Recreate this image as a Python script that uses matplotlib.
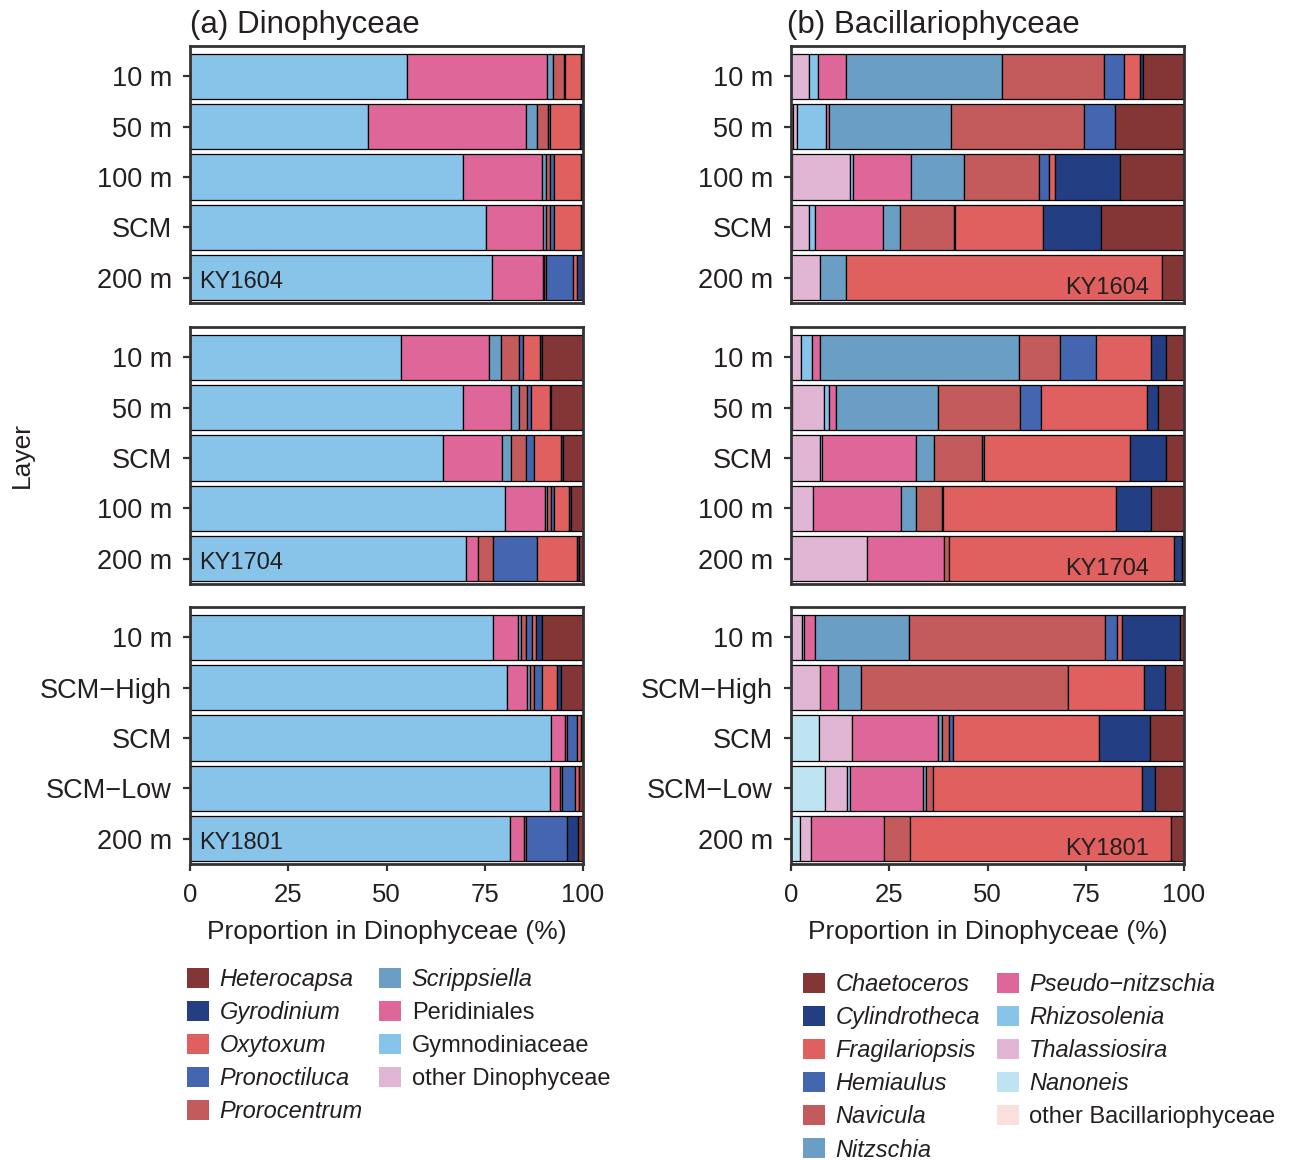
import numpy as np
import matplotlib
matplotlib.use("Agg")
import matplotlib.pyplot as plt
from matplotlib.patches import Patch

plt.rcParams['font.family'] = ['Liberation Sans', 'DejaVu Sans']

cruises = ["KY1604", "KY1704", "KY1801"]
layers = [["10 m", "50 m", "100 m", "SCM", "200 m"],
          ["10 m", "50 m", "SCM", "100 m", "200 m"],
          ["10 m", "SCM\u2212High", "SCM", "SCM\u2212Low", "200 m"]]

# Dinophyceae, % per layer: KY1604 x5, KY1704 x5, KY1801 x5 (top to bottom)
other_dino = [0.0] * 15
gymno = [55.3, 45.4, 69.4, 75.3, 76.8, 53.7, 69.5, 64.5, 80.1, 70.3, 77.0, 80.6, 91.9, 91.6, 81.4]
peri = [35.6, 40.2, 20.2, 14.5, 13.1, 22.4, 12.3, 14.8, 10.2, 2.9, 6.4, 5.2, 3.6, 2.6, 3.7]
scripp = [1.4, 2.7, 0.9, 0.9, 0.3, 3.1, 1.8, 2.5, 0.6, 0.0, 0.8, 0.8, 0.0, 0.0, 0.0]
proro = [2.8, 2.7, 1.2, 0.9, 0.3, 4.6, 2.2, 3.8, 0.9, 3.8, 1.4, 1.0, 0.4, 0.4, 0.3]
pron = [0.3, 0.6, 1.0, 0.9, 7.0, 1.0, 1.0, 2.0, 0.8, 11.4, 1.4, 1.9, 2.7, 3.4, 10.5]
oxy = [4.2, 7.7, 6.9, 7.1, 1.0, 4.2, 4.7, 6.7, 3.9, 10.1, 1.1, 3.9, 0.8, 0.9, 0.0]
gyro = [0.2, 0.4, 0.2, 0.2, 1.4, 0.6, 0.3, 0.5, 0.4, 0.4, 1.4, 1.1, 0.3, 0.2, 2.9]
hetero = [0.2, 0.3, 0.2, 0.2, 0.1, 10.4, 8.2, 5.2, 3.1, 1.1, 10.5, 5.5, 0.3, 0.9, 1.2]

# Bacillariophyceae
other_bac = [0.0, 0.5, 0.3, 0.3, 0.0, 0.0, 0.3, 0.0, 0.0, 0.0, 0.0, 0.0, 0.0, 0.0, 0.0]
nanon = [0.0, 0.0, 0.0, 0.0, 0.0, 0.0, 0.0, 0.0, 0.0, 0.0, 0.0, 0.0, 7.0, 8.6, 2.2]
thal = [4.5, 0.9, 14.8, 4.4, 7.4, 2.6, 8.1, 7.4, 5.6, 19.4, 2.8, 7.5, 8.5, 5.7, 2.9]
rhizo = [2.3, 7.4, 0.6, 1.4, 0.0, 2.7, 1.2, 0.5, 0.0, 0.0, 0.6, 0.0, 0.0, 0.6, 0.0]
pseudo = [7.2, 0.8, 14.9, 17.2, 0.0, 2.1, 1.9, 23.9, 22.4, 19.6, 2.8, 4.4, 21.8, 18.7, 18.6]
nitz = [39.6, 31.2, 13.5, 4.4, 6.5, 50.5, 25.9, 4.5, 3.8, 0.0, 23.9, 5.9, 1.1, 0.8, 0.0]
navic = [26.1, 33.8, 18.9, 13.8, 0.0, 10.5, 20.8, 12.3, 6.6, 1.1, 49.9, 52.6, 1.9, 1.7, 6.7]
hemi = [5.1, 7.8, 2.6, 0.2, 0.0, 9.1, 5.5, 0.4, 0.3, 0.0, 2.9, 0.2, 0.9, 0.0, 0.0]
frag = [3.9, 0.0, 1.5, 22.5, 80.5, 14.0, 26.8, 37.3, 44.1, 57.3, 1.2, 19.3, 37.2, 53.1, 66.2]
cyl = [0.8, 0.0, 16.6, 14.8, 0.0, 3.8, 3.0, 9.0, 8.7, 2.2, 14.8, 5.3, 12.9, 3.3, 0.0]
chaet = [10.5, 17.6, 16.3, 21.0, 5.6, 4.7, 6.5, 4.7, 8.5, 0.4, 1.1, 4.8, 8.7, 7.5, 3.4]

c_dark = "#843637"
c_navy = "#233e82"
c_red = "#e06060"
c_blue = "#4466b0"
c_rust = "#c35a5c"
c_steel = "#6a9ec4"
c_pink = "#de6699"
c_sky = "#88c3ea"
c_lilac = "#e0b6d4"
c_cyan = "#bee4f3"
c_blush = "#fbdfdd"

# stacked left to right
dino_stack = [("other Dinophyceae", other_dino, c_lilac, False),
              ("Gymnodiniaceae", gymno, c_sky, False),
              ("Peridiniales", peri, c_pink, False),
              ("Scrippsiella", scripp, c_steel, True),
              ("Prorocentrum", proro, c_rust, True),
              ("Pronoctiluca", pron, c_blue, True),
              ("Oxytoxum", oxy, c_red, True),
              ("Gyrodinium", gyro, c_navy, True),
              ("Heterocapsa", hetero, c_dark, True)]
bac_stack = [("other Bacillariophyceae", other_bac, c_blush, False),
             ("Nanoneis", nanon, c_cyan, True),
             ("Thalassiosira", thal, c_lilac, True),
             ("Rhizosolenia", rhizo, c_sky, True),
             ("Pseudo\u2212nitzschia", pseudo, c_pink, True),
             ("Nitzschia", nitz, c_steel, True),
             ("Navicula", navic, c_rust, True),
             ("Hemiaulus", hemi, c_blue, True),
             ("Fragilariopsis", frag, c_red, True),
             ("Cylindrotheca", cyl, c_navy, True),
             ("Chaetoceros", chaet, c_dark, True)]

fig = plt.figure(figsize=(12.97, 11.6), dpi=100)

W, H = 1297, 1160
col_x = [190, 791]
row_y = [(46, 303), (327, 584), (607, 864)]
spine_c = "#333333"
txt_c = "#231f20"


def draw_column(col, stack, title, kx, kha):
    for i in range(3):
        top, bot = row_y[i]
        ax = fig.add_axes([col_x[col] / W, 1 - bot / H, 393 / W, (bot - top) / H])
        y = np.arange(5)
        left = np.zeros(5)
        for name, vals, color, it in stack:
            v = np.array(vals[i * 5:(i + 1) * 5])
            m = v > 0
            ax.barh(y[m], v[m], left=left[m], height=0.9, color=color,
                    edgecolor="black", linewidth=0.9)
            left += v
        ax.set_xlim(0, 100)
        ax.set_ylim(4.5, -0.6)
        ax.set_yticks(y)
        ax.set_yticklabels(layers[i])
        ax.set_xticks([0, 25, 50, 75, 100])
        for s in ax.spines.values():
            s.set_color(spine_c)
            s.set_linewidth(2)
        ax.tick_params(axis="y", color=spine_c, width=1.6, length=5, pad=8,
                       labelsize=19.5, labelcolor=txt_c)
        ax.tick_params(axis="x", color=spine_c, width=1.6, length=5, pad=9,
                       labelsize=18.5, labelcolor=txt_c)
        if i < 2:
            ax.tick_params(axis="x", bottom=False, labelbottom=False)
        else:
            ax.set_xlabel("Proportion in Dinophyceae (%)", fontsize=19,
                          labelpad=9, color=txt_c)
        ax.text(kx, 4.08 if kha == "left" else 4.2, cruises[i], ha=kha,
                va="center", fontsize=17, color=txt_c)
        if i == 0:
            ax.set_title(title, loc="left", fontsize=22.5, pad=9,
                         color=txt_c, x=-0.01 if col else 0)

    handles = [Patch(facecolor=c, edgecolor="none", label=n) for n, _, c, _ in stack[::-1]]
    leg_x = [187, 803][col]
    leg_y = [968, 973][col]
    leg = fig.legend(handles=handles, loc="upper left", ncol=2,
                     bbox_to_anchor=(leg_x / W, 1 - leg_y / H), frameon=False,
                     fontsize=17, handlelength=0.93, handleheight=0.93,
                     handletextpad=0.45, columnspacing=0.7, labelspacing=0.42,
                     borderpad=0, borderaxespad=0)
    flags = [it for _, _, _, it in stack[::-1]]
    for t, it in zip(leg.get_texts(), flags):
        t.set_color(txt_c)
        if it:
            t.set_style("italic")


draw_column(0, dino_stack, "(a) Dinophyceae", 2.2, "left")
draw_column(1, bac_stack, "(b) Bacillariophyceae", 91, "right")

fig.text(22 / W, 1 - 455 / H, "Layer", rotation=90, ha="center", va="center",
         fontsize=19, color=txt_c)

fig.savefig("out.png", dpi=100)
